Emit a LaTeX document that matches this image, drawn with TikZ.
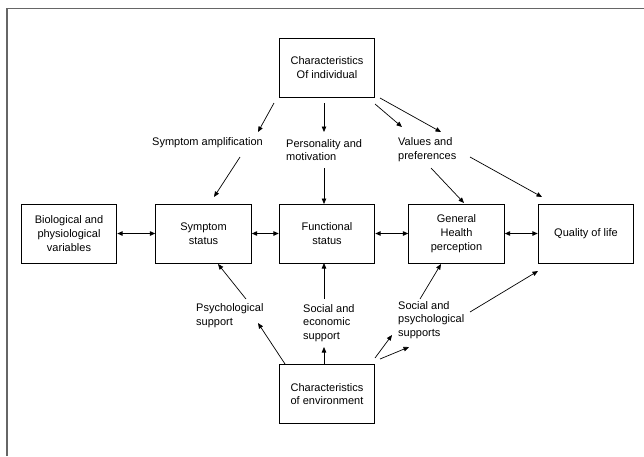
\documentclass[tikz,border=0pt]{standalone}
\usepackage{fontspec}
\setmainfont{Liberation Sans}
\usetikzlibrary{arrows.meta}
\begin{document}
\begin{tikzpicture}[x=1pt,y=-1pt,
  txt/.style={font=\fontsize{11}{13.8}\selectfont},
  box/.style={draw, line width=0.9pt, minimum width=95.5pt, minimum height=59pt, align=center, inner sep=0pt, txt},
  lbl/.style={align=left, inner sep=0pt, anchor=west, txt},
  arr/.style={-{Triangle[length=5.5pt,width=4.5pt]}, line width=0.7pt},
  darr/.style={{Triangle[length=5.5pt,width=4.5pt]}-{Triangle[length=5.5pt,width=4.5pt]}, line width=1.1pt}]
\useasboundingbox (0,0) rectangle (644,456);
\draw[black!60, line width=1.5pt] (7,456) -- (7,8.5) -- (644,8.5);
% boxes
\node[box] (ind) at (327,67.5) {Characteristics\\Of individual};
\node[box] (bio) at (69,233.5) {Biological and\\physiological\\variables};
\node[box] (sym) at (203.5,233.5) {Symptom\\status};
\node[box] (fun) at (327,233.5) {Functional\\status};
\node[box] (gen) at (456.5,233.5) {General\\Health\\perception};
\node[box] (qol) at (586,233.5) {Quality of life};
\node[box] (env) at (327,394) {Characteristics\\of environment};
% labels
\node[lbl] (amp) at (152,143) {Symptom amplification};
\node[lbl] (pers) at (286,150) {Personality and\\motivation};
\node[lbl] (val) at (398,150) {Values and\\preferences};
\node[lbl] (psy) at (196,316) {Psychological\\support};
\node[lbl] (soc) at (303,323) {Social and\\economic\\support};
\node[lbl] (socpsy) at (398,320) {Social and\\psychological\\supports};
% arrow end points
\coordinate (a1s) at (274,103); \coordinate (a1e) at (258,132);
\coordinate (a2s) at (240,157); \coordinate (a2e) at (214,197);
\coordinate (a3s) at (324,103); \coordinate (a3e) at (324,132);
\coordinate (a4s) at (324,168); \coordinate (a4e) at (324,204);
\coordinate (a5s) at (375,104); \coordinate (a5e) at (402,127);
\coordinate (a6s) at (380,98);  \coordinate (a6e) at (441,132);
\coordinate (a7s) at (431,168); \coordinate (a7e) at (464,203);
\coordinate (a8s) at (470,157); \coordinate (a8e) at (542,197);
\coordinate (b1s) at (246,299); \coordinate (b1e) at (218,264);
\coordinate (b2s) at (285,364); \coordinate (b2e) at (258,323);
\coordinate (b3s) at (324,299); \coordinate (b3e) at (324,263);
\coordinate (b4s) at (324,364); \coordinate (b4e) at (324,347);
\coordinate (b5s) at (375,358); \coordinate (b5e) at (392,335);
\coordinate (b6s) at (380,359); \coordinate (b6e) at (409,347);
\coordinate (b7s) at (420,299); \coordinate (b7e) at (441,264);
\coordinate (b8s) at (470,312); \coordinate (b8e) at (538,271);
% top arrows
\foreach \n in {a1,a2,a3,a4,a5,a6,a7,a8,b1,b2,b3,b4,b5,b6,b7,b8}
  \draw[arr] (\n s) -- (\n e);
% horizontal double arrows
\draw[darr] (bio) -- (sym);
\draw[darr] (sym) -- (fun);
\draw[darr] (fun) -- (gen);
\draw[darr] (gen) -- (qol);
\end{tikzpicture}
\end{document}
